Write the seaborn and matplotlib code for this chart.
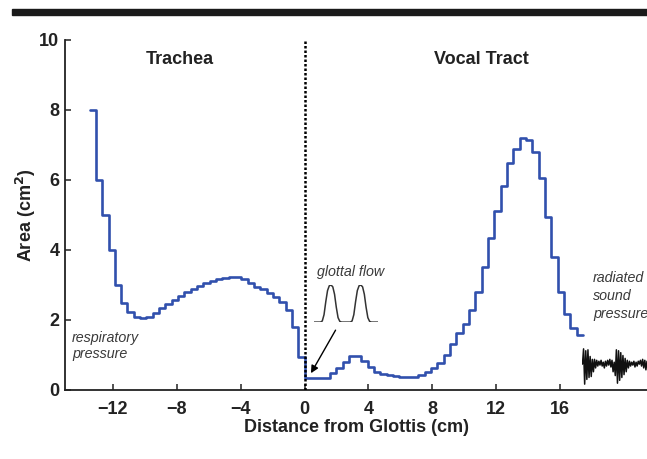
import numpy as np
import pandas as pd
import matplotlib
matplotlib.use("Agg")
import matplotlib.pyplot as plt
import seaborn as sns
from matplotlib.patches import Rectangle

# Area function: uniform tube sections, trachea (lungs -> glottis) and vocal tract (glottis -> lips)
section_length_cm = 0.396
trachea_area = [8.0, 6.0, 5.0, 4.0, 3.0, 2.5, 2.22, 2.08, 2.06, 2.09, 2.2, 2.35,
                2.47, 2.58, 2.69, 2.79, 2.88, 2.97, 3.05, 3.11, 3.16, 3.2, 3.22,
                3.22, 3.16, 3.07, 2.95, 2.88, 2.78, 2.67, 2.52, 2.3, 1.81, 0.95]
vocal_tract_area = [0.33, 0.33, 0.33, 0.33, 0.48, 0.62, 0.81, 0.98, 0.98, 0.82,
                    0.66, 0.52, 0.46, 0.42, 0.39, 0.37, 0.36, 0.38, 0.44, 0.52,
                    0.63, 0.78, 0.99, 1.32, 1.62, 1.9, 2.29, 2.81, 3.52, 4.33,
                    5.12, 5.83, 6.48, 6.9, 7.19, 7.14, 6.8, 6.05, 4.95, 3.81,
                    2.81, 2.17, 1.76, 1.57]

# Sketch waveforms (normalised)
glottal_flow = [0, 0, 0, 0, 0,
                0.03, 0.2, 0.55, 0.85, 0.98, 1.0, 0.95, 0.75, 0.4, 0.12, 0.02,
                0, 0, 0, 0, 0, 0,
                0.03, 0.2, 0.55, 0.85, 0.98, 1.0, 0.95, 0.75, 0.4, 0.12, 0.02,
                0, 0, 0, 0, 0]
radiated_pressure = [0.1, 0.9, -0.95, 0.8, -0.7, 0.85, -0.6, 0.5, -0.55, 0.35,
                     -0.3, 0.35, -0.1, 0.3, 0.0, 0.25, 0.05, 0.3, 0.0, 0.2,
                     -0.1, 0.25, 0.0, 0.3, 0.05, 0.35, -0.05, 0.3, -0.3, 0.2,
                     -0.5, 0.85, -0.9, 0.8, -0.75, 0.7, -0.6, 0.55, -0.45, 0.4,
                     -0.3, 0.3, -0.1, 0.25, 0.0, 0.2, 0.05, 0.25, -0.05, 0.2,
                     0.0, 0.25, 0.1, 0.3, 0.0, 0.35, -0.1, 0.3, -0.2, 0.25]

x_ticks = [-12, -8, -4, 0, 4, 8, 12, 16]
y_ticks = [0, 2, 4, 6, 8, 10]

sns.set_style("ticks")
plt.rcParams["font.family"] = ["Liberation Sans", "DejaVu Sans"]
plt.rcParams["font.weight"] = "bold"
plt.rcParams["axes.labelweight"] = "bold"

W, H = 647, 459
fig = plt.figure(figsize=(W / 100, H / 100), dpi=100)
ax = fig.add_axes([65 / W, 1 - 390 / H, 1 - 65 / W, 350 / H])

# Step profile built from section edges
n_tr = len(trachea_area)
edges = np.arange(-n_tr, len(vocal_tract_area) + 1) * section_length_cm
areas = trachea_area + vocal_tract_area + [vocal_tract_area[-1]]
df = pd.DataFrame({"x": edges, "area": areas})
sns.lineplot(data=df, x="x", y="area", drawstyle="steps-post", color="#3150ad",
             lw=1.9, estimator=None, sort=False, ax=ax)

ax.axvline(0, color="black", ls=(0, (1, 0.8)), lw=1.8, zorder=3)

ax.set_xlim(-15, 21.44)
ax.set_ylim(0, 10)
ax.set_xticks(x_ticks)
ax.set_yticks(y_ticks)
ax.tick_params(direction="in", length=4, width=1.1, labelsize=13,
               colors="#222222")
ax.tick_params(axis="x", pad=8)
ax.tick_params(axis="y", pad=4)
sns.despine(ax=ax)
for side in ("left", "bottom"):
    ax.spines[side].set_linewidth(1.3)
    ax.spines[side].set_color("#222222")

ax.set_xlabel("Distance from Glottis (cm)", fontsize=13, labelpad=1,
              color="#222222")
ax.set_ylabel("Area (cm$^\\mathbf{2}$)", fontsize=13, labelpad=1,
              color="#222222")

ax.text(-7.8, 9.43, "Trachea", ha="center", va="center", fontsize=13,
        color="#222222")
ax.text(11.1, 9.43, "Vocal Tract", ha="center", va="center", fontsize=13,
        color="#222222")

note = dict(fontsize=10.3, style="italic", fontweight="normal", color="#3a3a3a")
ax.text(-14.55, 1.25, "respiratory\npressure", ha="left", va="center",
        linespacing=1.2, **note)
ax.text(0.8, 3.37, "glottal flow", ha="left", va="center", **note)
ax.text(18.06, 2.69, "radiated\nsound\npressure", ha="left", va="center",
        linespacing=1.36, **note)

ax.annotate("", xy=(0.4, 0.48), xytext=(1.94, 1.71),
            arrowprops=dict(arrowstyle="-|>", color="black", lw=1.0,
                            mutation_scale=11, shrinkA=0, shrinkB=0))

# Glottal flow pulses
ax_g = ax.inset_axes([0.56, 1.94, 4.06, 1.06], transform=ax.transData)
sns.lineplot(x=np.arange(len(glottal_flow)), y=glottal_flow, color="#333333",
             lw=1.1, ax=ax_g)
ax_g.set_xlim(0, len(glottal_flow) - 1)
ax_g.set_ylim(0, 1)
ax_g.set_xticks([])
ax_g.set_yticks([])
ax_g.axis("off")

# Radiated pressure
ax_r = ax.inset_axes([17.4, 0.14, 4.04, 1.09], transform=ax.transData)
sns.lineplot(x=np.arange(len(radiated_pressure)), y=radiated_pressure,
             color="#111111", lw=1.1, ax=ax_r)
ax_r.set_xlim(0, len(radiated_pressure) - 1)
ax_r.set_ylim(-1, 1)
ax_r.set_xticks([])
ax_r.set_yticks([])
ax_r.axis("off")

fig.patches.append(Rectangle((12 / W, 1 - 15 / H), 635 / W, 6 / H,
                             transform=fig.transFigure, color="#1a1a1a"))

fig.savefig("out.png", dpi=100)
